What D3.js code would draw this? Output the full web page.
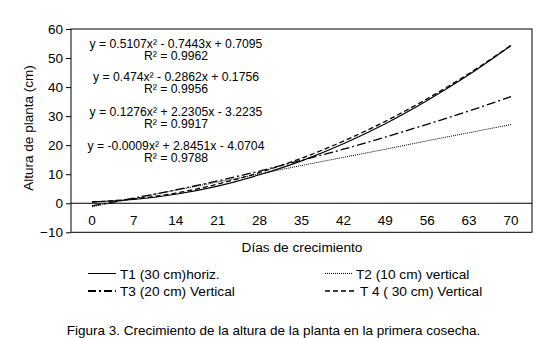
<!DOCTYPE html>
<html><head><meta charset="utf-8">
<script src="https://cdn.jsdelivr.net/npm/d3@7"></script>
<style>body{margin:0;background:#fff}svg{display:block;font-family:"Liberation Sans",Arial,sans-serif}</style>
</head><body><svg id="c" width="543" height="338"></svg>
<script>
const days = [0,7,14,21,28,35,42,49,56,63,70];
const yTicks = [-10,0,10,20,30,40,50,60];
const t1 = [0.5,1.3,3.1,5.9,9.8,14.6,20.5,27.4,35.4,44.3,54.3];
const t2 = [-1.2,1.6,4.5,7.3,10.1,13.0,15.8,18.6,21.5,24.3,27.1];
const t3 = [-0.9,1.8,4.6,7.7,11.1,14.8,18.6,22.8,27.2,31.8,36.7];
const t4 = [0.4,1.5,3.5,6.6,10.6,15.5,21.4,28.2,36.0,44.7,54.4];
const seriesNames = ["T1 (30 cm)horiz.","T2 (10 cm) vertical","T3 (20 cm) Vertical","T 4 ( 30 cm) Vertical"];
const equations = [
  ["y = 0.5107x² - 0.7443x + 0.7095","R² = 0.9962"],
  ["y = 0.474x² - 0.2862x + 0.1756","R² = 0.9956"],
  ["y = 0.1276x² + 2.2305x - 3.2235","R² = 0.9917"],
  ["y = -0.0009x² + 2.8451x - 4.0704","R² = 0.9788"]
];
const styles = [
  {dash:null, w:1.2},
  {dash:"1,1", w:1},
  {dash:"9,3,2,3", w:1.3},
  {dash:"5,3", w:1.3}
];
const series = [t1,t2,t3,t4];

const svg = d3.select("#c");
const L=71, R=532, T=29, B=232.3;
const x = d3.scaleLinear().domain([-3.5,73.5]).range([L,R]);
const y = d3.scaleLinear().domain([-10,60]).range([B,T]);
const FS = 13.5;

svg.append("rect").attr("x",L).attr("y",T).attr("width",R-L).attr("height",B-T)
  .attr("fill","none").attr("stroke","#000").attr("stroke-width",1);
svg.append("line").attr("x1",L).attr("x2",R).attr("y1",y(0)).attr("y2",y(0)).attr("stroke","#000");

const ya = svg.append("g").attr("transform",`translate(${L},0)`)
  .call(d3.axisLeft(y).tickValues(yTicks).tickSize(5).tickPadding(3).tickFormat(d3.format("d")));
ya.select(".domain").remove();
ya.selectAll("text").attr("font-size",FS).attr("fill","#000").attr("font-family","Liberation Sans, Arial");
ya.selectAll("line").attr("stroke","#000");

svg.append("g").selectAll("text").data(days).join("text")
  .attr("x",d=>x(d)).attr("y",y(0)+22).attr("text-anchor","middle")
  .attr("font-size",FS).text(d=>d);

const line = d3.line().x((d,i)=>x(days[i])).y(d=>y(d)).curve(d3.curveMonotoneX);
series.forEach((s,i)=>{
  svg.append("path").attr("d",line(s)).attr("fill","none").attr("stroke","#000")
    .attr("stroke-width",styles[i].w).attr("stroke-dasharray",styles[i].dash);
});

const eqY = [43,76,111,145];
equations.forEach((e,i)=>{
  svg.append("text").attr("x",176).attr("y",eqY[i]+4.5).attr("text-anchor","middle").attr("font-size",12.2).text(e[0]);
  svg.append("text").attr("x",176).attr("y",eqY[i]+17).attr("text-anchor","middle").attr("font-size",12.2).text(e[1]);
});

svg.append("text").attr("transform",`translate(33,128) rotate(-90)`).attr("text-anchor","middle")
  .attr("font-size",FS).text("Altura de planta (cm)");
svg.append("text").attr("x",302).attr("y",252).attr("text-anchor","middle").attr("font-size",13.7).text("Días de crecimiento");

const leg = [
  {x1:88,x2:116,tx:120,y:273.5,dash:null,w:1},
  {x1:325,x2:352,tx:356,y:273.5,dash:"1,1",w:1},
  {x1:88,x2:116,tx:120,y:291,dash:"8,3,2,3",w:2},
  {x1:325,x2:355,tx:360,y:291,dash:"5,3",w:1.6}
];
seriesNames.forEach((n,i)=>{
  const p = leg[i];
  svg.append("line").attr("x1",p.x1).attr("x2",p.x2).attr("y1",p.y).attr("y2",p.y)
    .attr("stroke","#000").attr("stroke-width",p.w).attr("stroke-dasharray",p.dash);
  svg.append("text").attr("x",p.tx).attr("y",p.y+5).attr("font-size",13.7).text(n);
});

svg.append("text").attr("x",273.5).attr("y",335).attr("text-anchor","middle").attr("font-size",13.5).text("Figura 3. Crecimiento de la altura de la planta en la primera cosecha.");
</script></body></html>
